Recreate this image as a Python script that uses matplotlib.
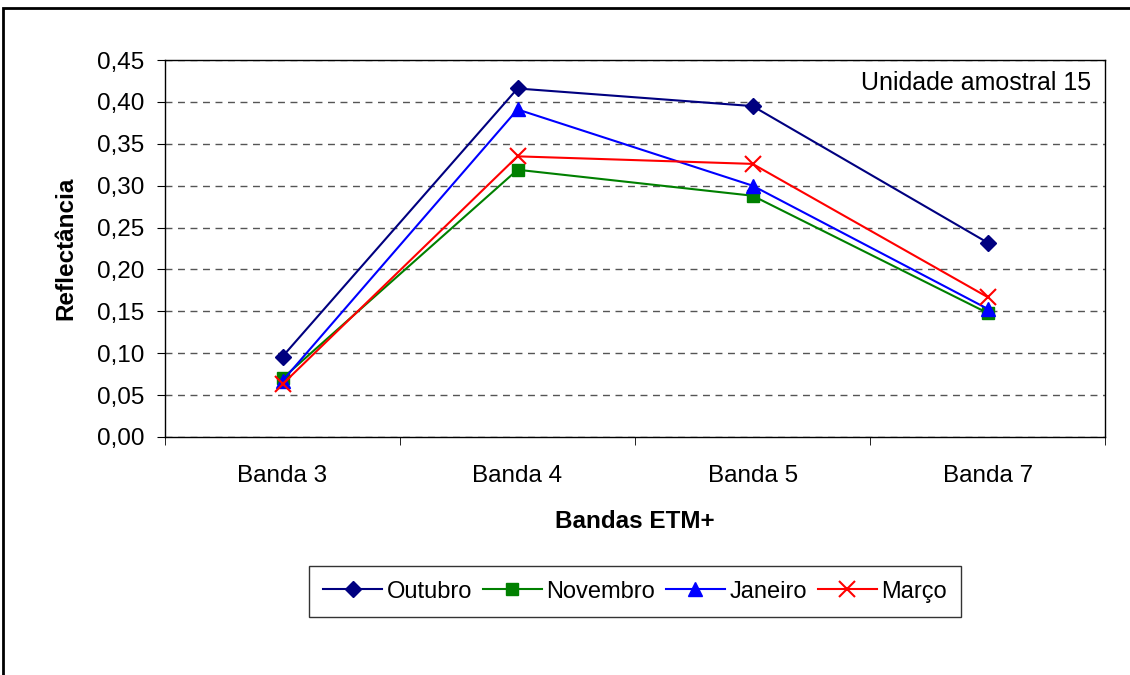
import matplotlib.pyplot as plt
from matplotlib.patches import Rectangle
from matplotlib.ticker import FixedLocator, NullFormatter

plt.rcParams['font.family'] = ['Liberation Sans', 'DejaVu Sans']

bandas = ['Banda 3', 'Banda 4', 'Banda 5', 'Banda 7']
outubro = [0.096, 0.416, 0.395, 0.232]
novembro = [0.070, 0.319, 0.288, 0.148]
janeiro = [0.067, 0.391, 0.300, 0.153]
marco = [0.063, 0.335, 0.326, 0.167]
yticks = [0.0, 0.05, 0.10, 0.15, 0.20, 0.25, 0.30, 0.35, 0.40, 0.45]

fs = 17.5

fig = plt.figure(figsize=(11.3, 6.75), dpi=100)
ax = fig.add_axes([0.146, 0.3526, 0.832, 0.5585])

x = range(len(bandas))
ax.plot(x, outubro, color='#000080', marker='D', markersize=8, lw=1.5, label='Outubro')
ax.plot(x, novembro, color='#008000', marker='s', markersize=8, lw=1.5, label='Novembro')
ax.plot(x, janeiro, color='#0000FF', marker='^', markersize=10, lw=1.5, label='Janeiro')
ax.plot(x, marco, color='#FF0000', marker='x', markersize=11, mew=1.5, lw=1.5, label='Março')

ax.set_xlim(-0.5, 3.5)
ax.set_ylim(0, 0.45)
ax.set_yticks(yticks)
ax.set_yticklabels([f'{v:.2f}'.replace('.', ',') for v in yticks], fontsize=fs)
ax.set_xticks(list(x))
ax.set_xticklabels(bandas, fontsize=fs)
ax.tick_params(axis='x', which='major', length=0, pad=20)
ax.xaxis.set_minor_locator(FixedLocator([-0.5, 0.5, 1.5, 2.5, 3.5]))
ax.xaxis.set_minor_formatter(NullFormatter())
ax.tick_params(axis='x', which='minor', length=6, color='black')
ax.tick_params(axis='y', length=6, color='black', pad=9)

ax.grid(axis='y', linestyle=(0, (5, 4)), color='#555555', lw=1)
ax.set_axisbelow(True)
for s in ax.spines.values():
    s.set_color('black')
    s.set_linewidth(1)

ax.set_ylabel('Reflectância', fontsize=fs, fontweight='bold', labelpad=14)
ax.set_xlabel('Bandas ETM+', fontsize=fs, fontweight='bold', labelpad=17)
ax.text(0.985, 0.94, 'Unidade amostral 15', transform=ax.transAxes,
        ha='right', va='center', fontsize=18)

leg = fig.legend(loc='center', bbox_to_anchor=(0.562, 0.1235), ncol=4, fontsize=17,
                 frameon=True, fancybox=False, edgecolor='black', handlelength=2.5,
                 columnspacing=0.45, handletextpad=0.2, borderpad=0.6)
leg.get_frame().set_linewidth(1)

fig.patches.append(Rectangle((0.003, -0.1), 1.2, 1.088, transform=fig.transFigure,
                             fill=False, edgecolor='black', lw=2))

fig.savefig('out.png', dpi=100)
